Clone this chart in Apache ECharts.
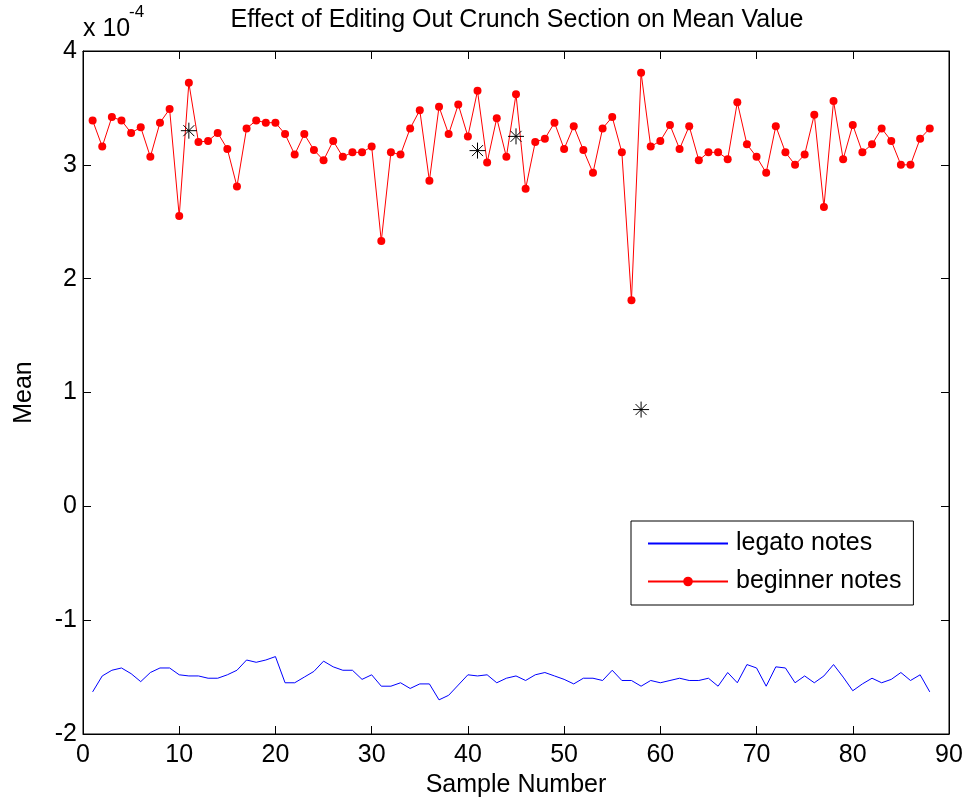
<!DOCTYPE html>
<html>
<head>
<meta charset="utf-8">
<script src="https://cdn.jsdelivr.net/npm/echarts@6/dist/echarts.min.js"></script>
<style>html,body{margin:0;padding:0;background:#fff}#c{width:971px;height:805px}</style>
</head>
<body>
<div id="c"></div>
<script>
// values in units of 1e-4
const legatoNotes = [-1.63,-1.49,-1.44,-1.42,-1.47,-1.54,-1.46,-1.42,-1.42,-1.48,
  -1.49,-1.49,-1.51,-1.51,-1.48,-1.44,-1.35,-1.37,-1.35,-1.32,
  -1.55,-1.55,-1.50,-1.45,-1.36,-1.41,-1.44,-1.44,-1.52,-1.48,
  -1.58,-1.58,-1.55,-1.60,-1.56,-1.56,-1.70,-1.66,-1.57,-1.48,
  -1.49,-1.48,-1.55,-1.51,-1.49,-1.53,-1.48,-1.46,-1.49,-1.52,
  -1.56,-1.51,-1.51,-1.53,-1.44,-1.53,-1.53,-1.58,-1.53,-1.55,
  -1.53,-1.51,-1.53,-1.53,-1.51,-1.58,-1.46,-1.55,-1.39,-1.42,
  -1.58,-1.41,-1.42,-1.55,-1.49,-1.55,-1.49,-1.39,-1.50,-1.62,
  -1.56,-1.51,-1.55,-1.52,-1.46,-1.53,-1.48,-1.63];
const beginnerNotes = [3.39,3.16,3.42,3.39,3.28,3.33,3.07,3.37,3.49,2.55,
  3.72,3.20,3.21,3.28,3.14,2.81,3.32,3.39,3.37,3.37,
  3.27,3.09,3.27,3.13,3.04,3.21,3.07,3.11,3.11,3.16,
  2.33,3.11,3.09,3.32,3.48,2.86,3.51,3.27,3.53,3.25,
  3.65,3.02,3.41,3.07,3.62,2.79,3.20,3.23,3.37,3.14,
  3.34,3.13,2.93,3.32,3.42,3.11,1.81,3.81,3.16,3.21,
  3.35,3.14,3.34,3.04,3.11,3.11,3.05,3.55,3.18,3.07,
  2.93,3.34,3.11,3.00,3.09,3.44,2.63,3.56,3.05,3.35,
  3.11,3.18,3.32,3.21,3.00,3.00,3.23,3.32];
const starX = [11, 41, 45, 58];
const starY = [3.30, 3.125, 3.25, 0.85];
const xTicks = [0,10,20,30,40,50,60,70,80,90];
const yTicks = [-2,-1,0,1,2,3,4];

const FONT = "Arial, 'Liberation Sans', Helvetica, sans-serif";
const FS = 25;
const toPairs = arr => arr.map((v, i) => [i + 1, v]);
const chart = echarts.init(document.getElementById('c'), null, {renderer: 'canvas'});

function axisCommon() {
  return {
    axisLine: {show: true, onZero: false, lineStyle: {color: '#000', width: 1}},
    axisTick: {show: true, inside: true, length: 8, lineStyle: {color: '#000', width: 1}},
    splitLine: {show: false}
  };
}

const option = {
  animation: false,
  backgroundColor: '#fff',
  textStyle: {fontFamily: FONT},
  grid: {left: 83, right: 22, top: 51, bottom: 71, show: true, borderColor: '#000', borderWidth: 1},
  graphic: [
    {type: 'text', x: 517, y: 8, style: {text: 'Effect of Editing Out Crunch Section on Mean Value', fontSize: FS, fontFamily: FONT, fill: '#000', align: 'center', textAlign: 'center'}},
    {type: 'text', x: 83, y: 17, style: {text: 'x 10', fontSize: FS, fontFamily: FONT, fill: '#000'}},
    {type: 'text', x: 129, y: 4, style: {text: '-4', fontSize: 17, fontFamily: FONT, fill: '#000'}}
  ],
  xAxis: [
    Object.assign({
      type: 'value', position: 'bottom', min: xTicks[0], max: xTicks[xTicks.length - 1], interval: 10,
      name: 'Sample Number', nameLocation: 'middle', nameGap: 35,
      nameTextStyle: {fontSize: FS, color: '#000', fontFamily: FONT},
      axisLabel: {fontSize: FS, color: '#000', margin: 9, fontFamily: FONT}
    }, axisCommon()),
    Object.assign({
      type: 'value', position: 'top', min: xTicks[0], max: xTicks[xTicks.length - 1], interval: 10,
      axisLabel: {show: false}
    }, axisCommon())
  ],
  yAxis: [
    Object.assign({
      type: 'value', position: 'left', min: yTicks[0], max: yTicks[yTicks.length - 1], interval: 1,
      name: 'Mean', nameLocation: 'middle', nameGap: 46,
      nameTextStyle: {fontSize: FS, color: '#000', fontFamily: FONT},
      axisLabel: {fontSize: FS, color: '#000', margin: 6, fontFamily: FONT}
    }, axisCommon()),
    Object.assign({
      type: 'value', position: 'right', min: yTicks[0], max: yTicks[yTicks.length - 1], interval: 1,
      axisLabel: {show: false}
    }, axisCommon())
  ],
  legend: {
    orient: 'vertical', left: 631, top: 521,
    backgroundColor: '#fff', borderColor: '#000', borderWidth: 1,
    padding: [10, 12, 11, 16], itemWidth: 80, itemHeight: 12, itemGap: 13,
    textStyle: {fontSize: FS, color: '#000', fontFamily: FONT, lineHeight: 24, padding: [0, 0, 0, 3]},
    data: [
      {name: 'legato notes', itemStyle: {opacity: 0}},
      {name: 'beginner notes'}
    ]
  },
  series: [
    {
      name: 'legato notes', type: 'line', data: toPairs(legatoNotes),
      symbol: 'none', lineStyle: {color: '#0000ff', width: 1}, itemStyle: {color: '#0000ff'}
    },
    {
      name: 'beginner notes', type: 'line', data: toPairs(beginnerNotes),
      symbol: 'circle', symbolSize: 8, showSymbol: true,
      lineStyle: {color: '#ff0000', width: 1}, itemStyle: {color: '#ff0000'}
    },
    {
      name: 'stars', type: 'custom',
      data: starX.map((x, i) => [x, starY[i]]),
      renderItem: function (params, api) {
        const p = api.coord([api.value(0), api.value(1)]);
        const r = 8, d = 5.5;
        const seg = (x1, y1, x2, y2) => ({type: 'line', shape: {x1: p[0] + x1, y1: p[1] + y1, x2: p[0] + x2, y2: p[1] + y2}, style: {stroke: '#000', lineWidth: 1}});
        return {type: 'group', children: [
          seg(-r, 0, r, 0), seg(0, -r, 0, r), seg(-d, -d, d, d), seg(-d, d, d, -d)
        ]};
      },
      z: 5
    }
  ]
};
chart.setOption(option);
</script>
</body>
</html>
